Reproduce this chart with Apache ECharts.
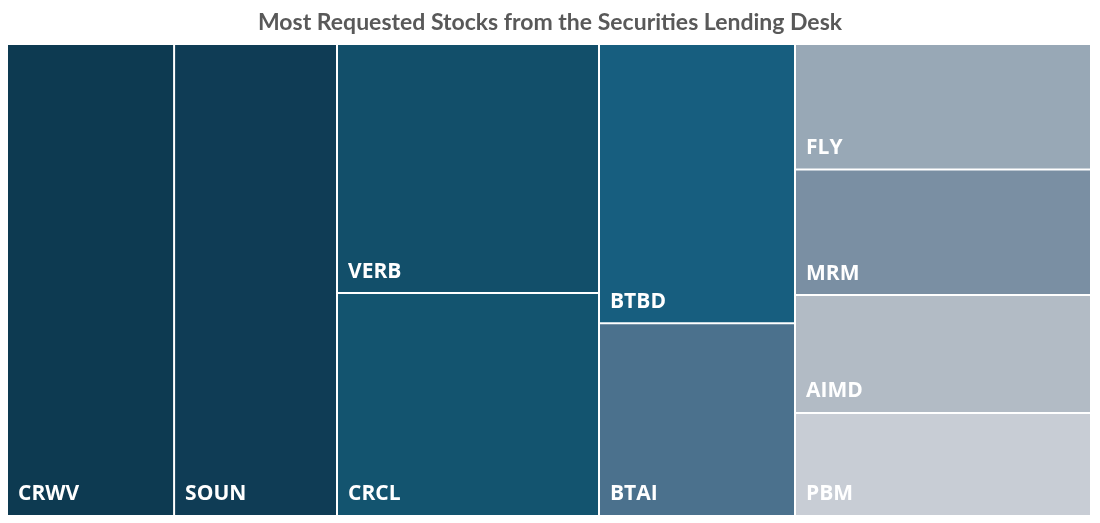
<!DOCTYPE html>
<html><head><meta charset="utf-8">
<script src="https://cdn.jsdelivr.net/npm/echarts@6/dist/echarts.min.js"></script>
<style>html,body{margin:0;padding:0;background:#fff}#c{width:1100px;height:523px}</style>
</head><body><div id="c"></div>
<script>
const names = [['CRWV','SOUN'],['VERB','CRCL'],['BTBD','BTAI'],[['MRM','FLY'],['AIMD','PBM']]];
const values = [[78540,76560],[64976,58164],[54488,37632],[[37000,37000],[34760,30360]]];
const colors = [['#0d3a51','#0f3c55'],['#124f6a','#13546f'],['#175e7f','#4b718d'],[['#7a8fa3','#98a8b6'],['#b2bbc5','#c8cdd5']]];
const leaf=(n,v,c)=>({name:n,value:v,itemStyle:{color:c}});
function build(i){
  return names[i].map((n,j)=>Array.isArray(n)
    ? {name:'row'+j,children:n.map((m,k)=>leaf(m,values[i][j][k],colors[i][j][k]))}
    : leaf(n,values[i][j],colors[i][j]));
}
const sums = values.map(g=>g.flat().reduce((a,b)=>a+b,0));
const total = sums.reduce((a,b)=>a+b,0);
const W=1084, L0=8;
let x=L0;
const series = sums.map((s,i)=>{
  const w=s/total*W;
  const sr={type:'treemap',left:x,width:w-2,top:45,bottom:8,roam:false,nodeClick:false,
    breadcrumb:{show:false},data:build(i),
    label:{show:true,position:'insideBottomLeft',distance:5,color:'#fff',fontFamily:'Open Sans',fontWeight:'bold',fontSize:21,formatter:'{b}'},
    levels:[{itemStyle:{borderWidth:0,gapWidth:2,borderColor:'#fff'}},
            {itemStyle:{borderWidth:0,gapWidth:2,borderColor:'#fff'}}]};
  x+=w; return sr;
});
const chart = echarts.init(document.getElementById('c'));
chart.setOption({
  animation:false,
  title:{text:'Most Requested Stocks from the Securities Lending Desk',left:'center',top:6,
    textStyle:{fontFamily:'Lato',fontWeight:'bold',fontSize:23,color:'#595959'}},
  series:series
});
</script></body></html>
